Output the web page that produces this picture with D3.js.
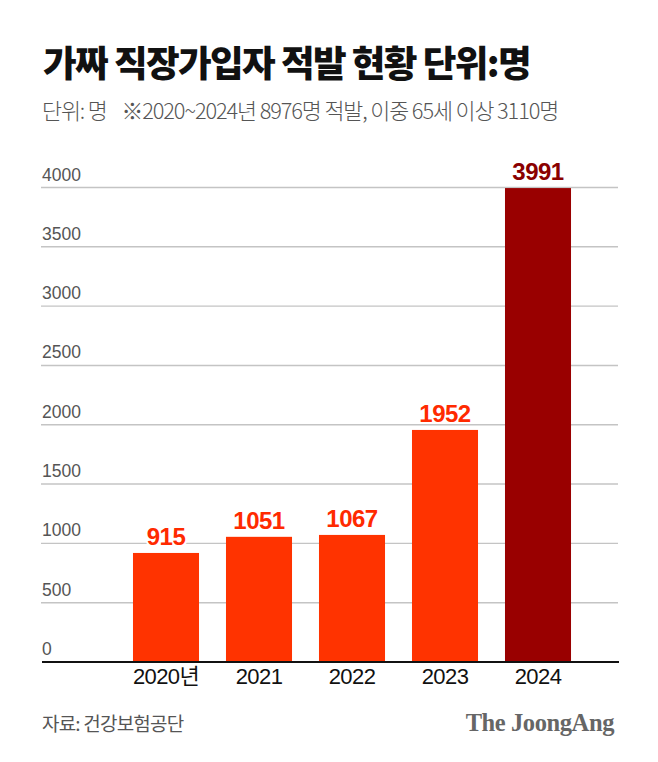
<!DOCTYPE html>
<html><head><meta charset="utf-8">
<script src="https://cdn.jsdelivr.net/npm/d3@7"></script>
<style>
html,body{margin:0;padding:0;background:#fff;}
svg{display:block;}
</style></head>
<body>
<svg id="chart" width="658" height="762"></svg>
<script>
const categories = ["2020년", "2021", "2022", "2023", "2024"];
const values = [915, 1051, 1067, 1952, 3991];
const yTicks = [0, 500, 1000, 1500, 2000, 2500, 3000, 3500, 4000];
const barColors = ["#ff3300", "#ff3300", "#ff3300", "#ff3300", "#990000"];
const labelColors = ["#ff2a00", "#ff2a00", "#ff2a00", "#ff2a00", "#8a0000"];
const titleText = "가짜 직장가입자 적발 현황 단위:명";
const subtitleText = "단위: 명    ※2020~2024년 8976명 적발, 이중 65세 이상 3110명";
const sourceText = "자료: 건강보험공단";
const brandText = "The JoongAng";

const svg = d3.select("#chart");
const W = 658, H = 762;
svg.append("rect").attr("width", W).attr("height", H).attr("fill", "#fff");

const korean = "'Noto Sans CJK KR', 'Noto Sans', sans-serif";
const latin = "'Liberation Sans', Arial, 'Noto Sans CJK KR', sans-serif";

function fitWidth(sel, target, base) {
  let fs = base;
  for (let k = 0; k < 4; k++) {
    sel.attr("font-size", fs);
    const w = sel.node().getComputedTextLength();
    if (!w) break;
    fs = fs * target / w;
  }
  sel.attr("font-size", fs);
}

// title
const title = svg.append("text")
  .attr("x", 43).attr("y", 77)
  .attr("font-family", korean).attr("font-weight", 900)
  .attr("letter-spacing", -1.6)
  .attr("fill", "#111").text(titleText);
fitWidth(title, 487, 30);

// subtitle
const sub = svg.append("text")
  .attr("x", 42).attr("y", 119)
  .attr("font-family", korean).attr("font-weight", 300)
  .attr("letter-spacing", -1.1)
  .attr("fill", "#555")
  .style("white-space", "pre")
  .text(subtitleText);
fitWidth(sub, 516, 19);

const y = d3.scaleLinear().domain([0, 4000]).range([661.5, 187]);
const x = d3.scaleBand().domain(categories).range([119.5, 584.5])
  .paddingInner(0.29).paddingOuter(0.145);

// gridlines + y labels
const yAxis = d3.axisLeft(y).tickValues(yTicks).tickSize(577).tickFormat(d3.format("d")).tickPadding(0);
const gy = svg.append("g").attr("transform", "translate(618,0)").call(yAxis);
gy.select(".domain").remove();
gy.selectAll(".tick line").attr("stroke", "#c4c4c4").attr("stroke-width", 1.4);
gy.selectAll(".tick").filter(d => d === 0).select("line").remove();
gy.selectAll(".tick text")
  .attr("x", -576).attr("dy", -7)
  .attr("text-anchor", "start")
  .attr("font-family", latin).attr("font-size", 17.5)
  .attr("fill", "#555");

// bars
svg.append("g").selectAll("rect").data(values).join("rect")
  .attr("x", (d, i) => x(categories[i]))
  .attr("width", x.bandwidth())
  .attr("y", d => y(d))
  .attr("height", d => y(0) - y(d))
  .attr("fill", (d, i) => barColors[i]);

// value labels with white halo
svg.append("g").selectAll("text").data(values).join("text")
  .attr("x", (d, i) => x(categories[i]) + x.bandwidth() / 2)
  .attr("y", d => y(d) - 8)
  .attr("text-anchor", "middle")
  .attr("font-family", latin).attr("font-weight", 700)
  .attr("font-size", 24).attr("letter-spacing", -0.5)
  .attr("fill", (d, i) => labelColors[i])
  .attr("stroke", "#fff").attr("stroke-width", 4).attr("paint-order", "stroke")
  .text(d => d);

// x axis
const xAxis = d3.axisBottom(x).tickSize(0).tickPadding(0);
const gx = svg.append("g").attr("transform", `translate(0,${y(0)})`).call(xAxis);
gx.select(".domain").remove();
svg.append("line").attr("x1", 42).attr("x2", 619)
  .attr("y1", y(0) + 0.5).attr("y2", y(0) + 0.5)
  .attr("stroke", "#111").attr("stroke-width", 2.2);
gx.selectAll(".tick text")
  .attr("y", 22).attr("dy", 0)
  .attr("font-family", latin).attr("font-size", 22).attr("letter-spacing", -0.6)
  .attr("fill", "#111");

// footer
svg.append("text")
  .attr("x", 42).attr("y", 731)
  .attr("font-family", korean).attr("font-weight", 400)
  .attr("font-size", 19).attr("letter-spacing", -0.8)
  .attr("fill", "#555").text(sourceText);

svg.append("text")
  .attr("x", 614).attr("y", 731)
  .attr("text-anchor", "end")
  .attr("font-family", "'Liberation Serif', 'DejaVu Serif', serif").attr("font-weight", 700)
  .attr("font-size", 24.5).attr("letter-spacing", -0.4)
  .attr("fill", "#666").text(brandText);
</script>
</body></html>
